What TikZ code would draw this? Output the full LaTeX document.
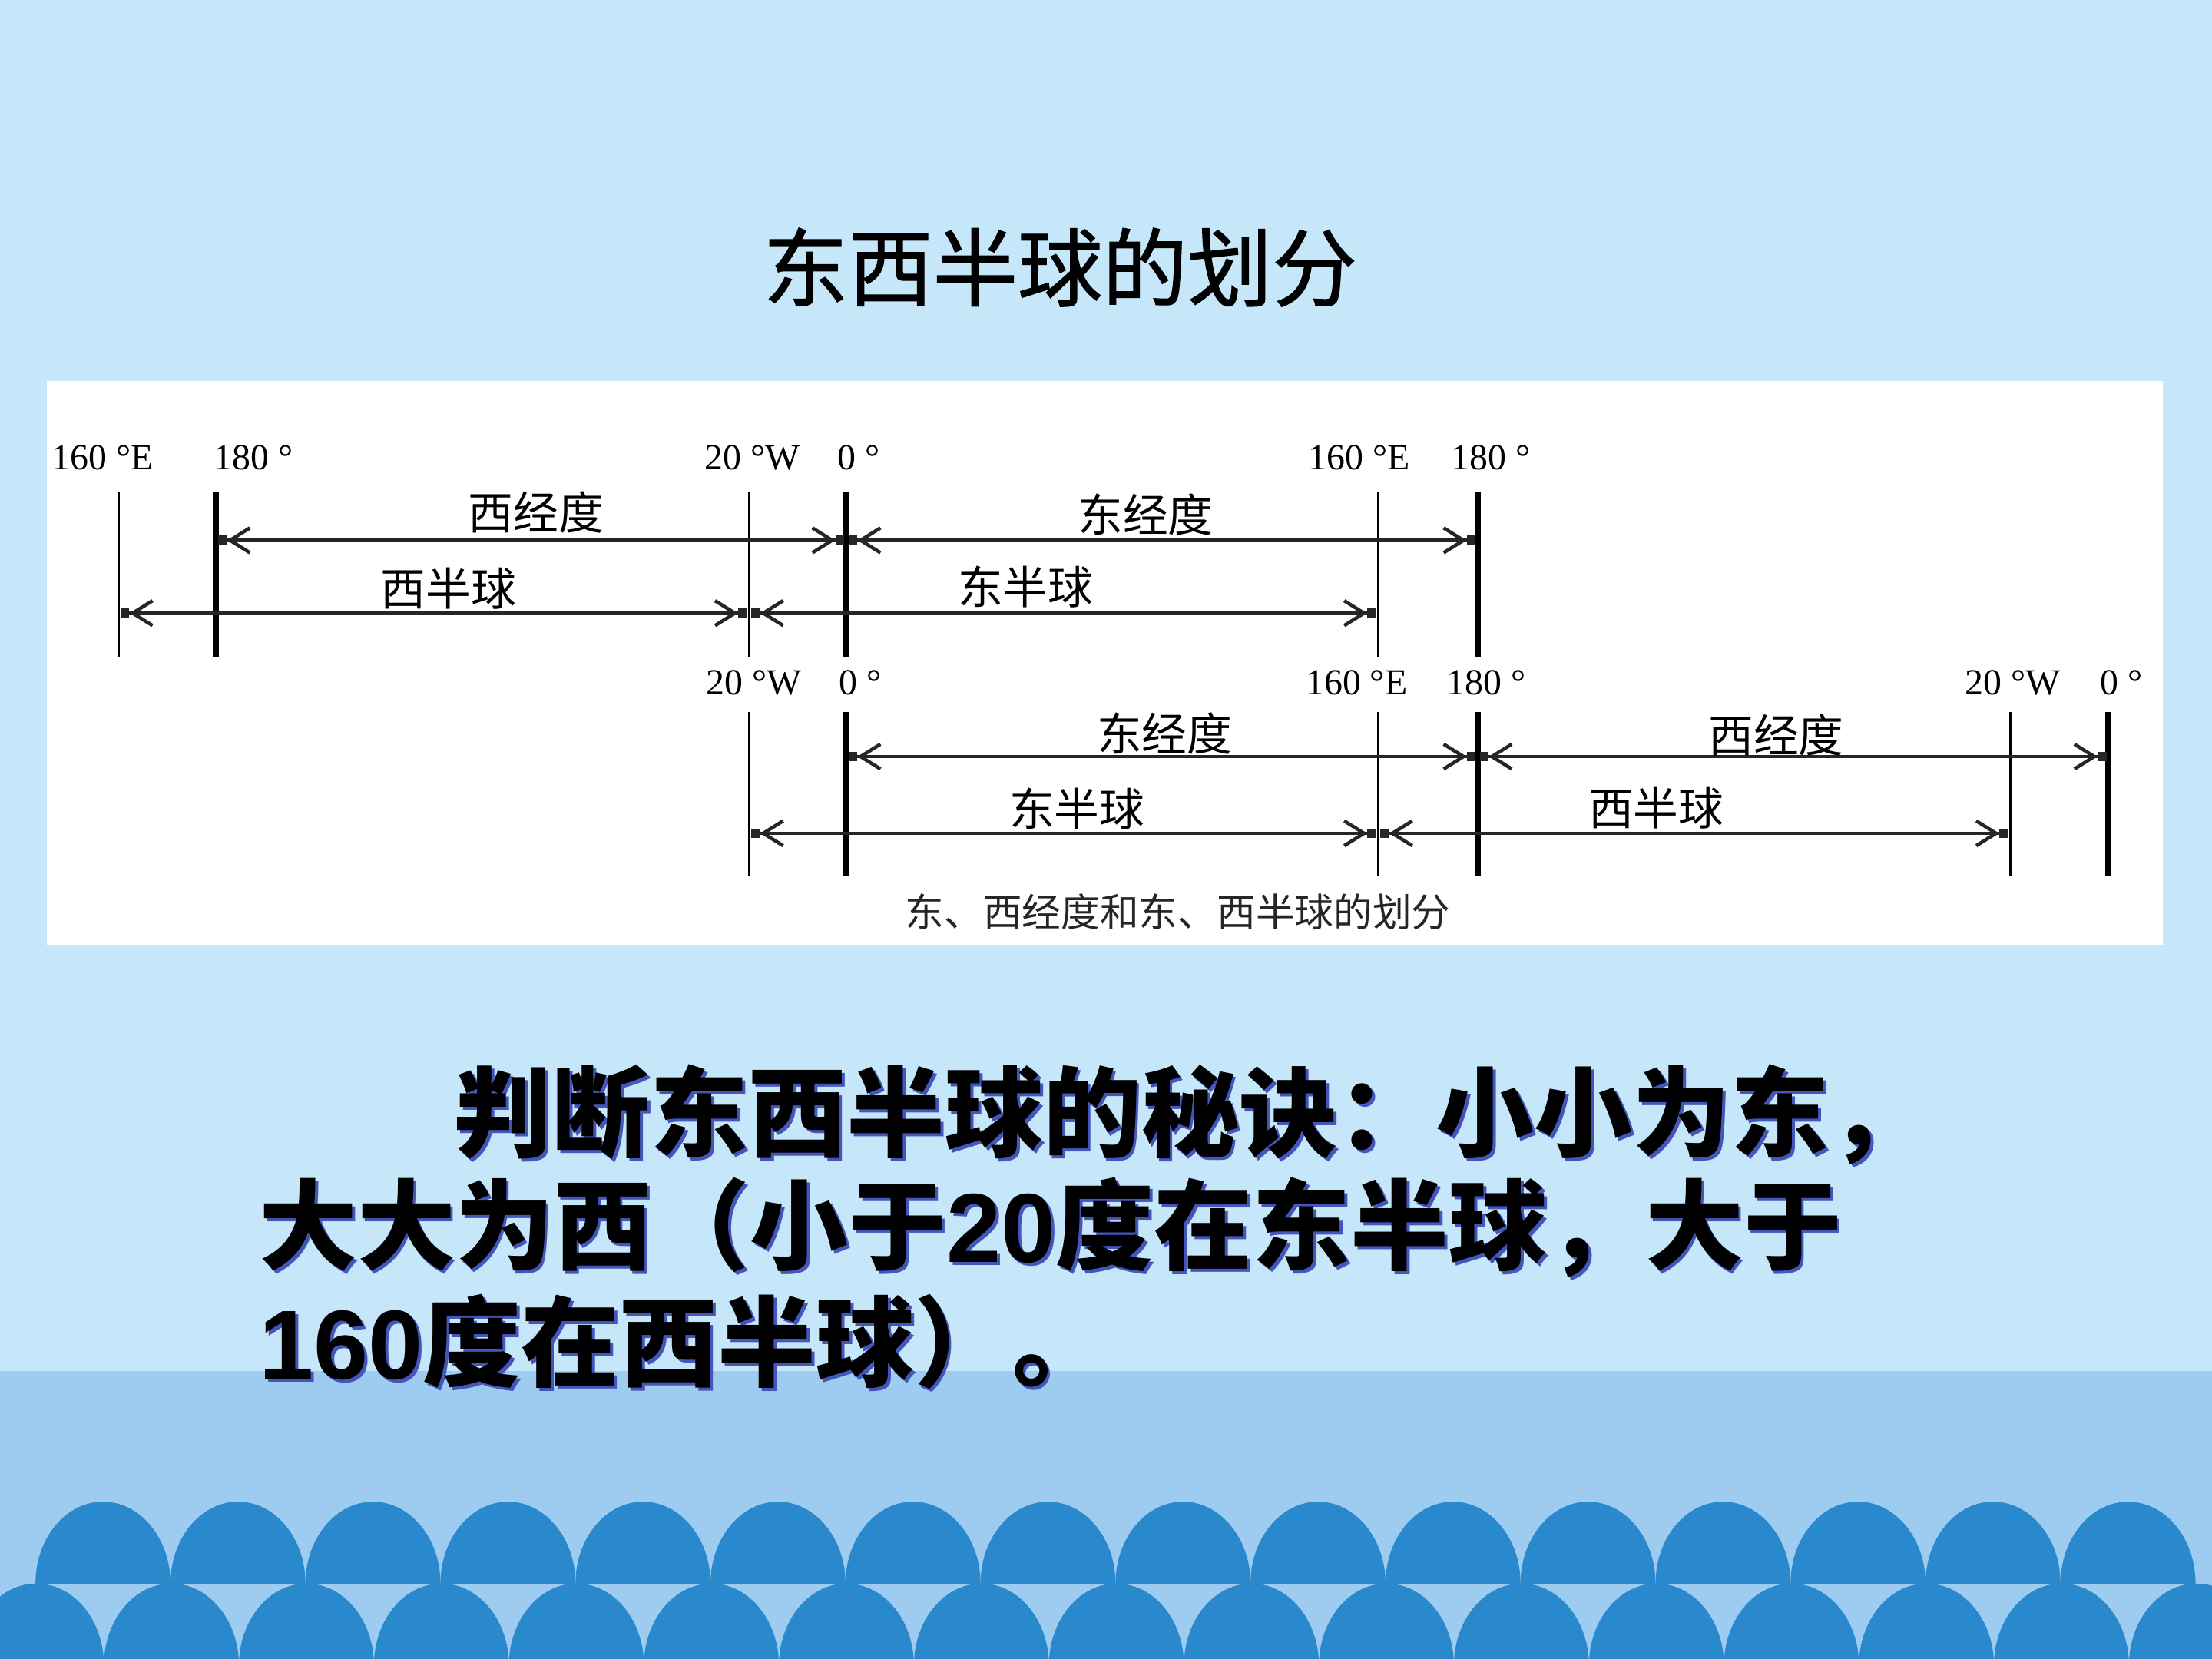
\documentclass[tikz,border=0pt]{standalone}
\usepackage{fontspec}
\setmainfont{Liberation Serif}
\newfontfamily\cjk{Noto Sans CJK SC}
\newfontfamily\cjkhead{Noto Sans CJK SC}[FakeBold=1.2]
\newfontfamily\numfont{Liberation Sans}
\usetikzlibrary{arrows.meta}
\definecolor{skytop}{HTML}{C5E7F9}
\definecolor{skyband}{HTML}{9ECCF0}
\definecolor{wave}{HTML}{2A88CC}
\definecolor{shadowblue}{HTML}{4455BB}
\tikzset{
    mthin/.style={line width=0.55pt},
    mthick/.style={line width=1.3pt},
    span/.style={draw=black!85, line width=0.7pt, shorten <=0.4pt, shorten >=0.4pt,
        arrows={Square[length=1.8pt,width=1.9pt,sep=0pt]Straight Barb[length=4pt,width=5pt,sep=0pt]-Straight Barb[length=4pt,width=5pt,sep=0pt]Square[length=1.8pt,width=1.9pt,sep=0pt]}},
    deg/.style={anchor=west, inner sep=0pt, font=\fontsize{7.4}{8}\selectfont},
    lab/.style={inner sep=0pt, font=\cjk\fontsize{9.1}{10}\selectfont},
    captxt/.style={inner sep=0pt, text=black!85, font=\cjk\fontsize{7.85}{9}\selectfont},
    title/.style={inner sep=0pt, font=\cjkhead\fontsize{17.1}{20}\selectfont},
    rule/.style={anchor=west, inner sep=0pt, font=\cjk\bfseries\fontsize{19.8}{22}\selectfont}
}
\begin{document}
\begin{tikzpicture}[x=0.01cm, y=-0.01cm]
    \useasboundingbox (0,0) rectangle (1568,1176);
    \fill[skytop] (0,0) rectangle (1568,1176);
    \fill[skyband] (0,972) rectangle (1568,1176);

    \begin{scope}[]
    \clip (0,1000) rectangle (1568,1122.5);
    \foreach \k in {0,...,15}
        \fill[wave] (73+95.7*\k,1122.5) ellipse (47.85 and 58);
    \end{scope}
    \begin{scope}[]
    \clip (0,1122.5) rectangle (1568,1176);
    \foreach \k in {0,...,16}
        \fill[wave] (25.8+95.7*\k,1180.5) ellipse (47.85 and 58);
    \end{scope}

    \node[title] (title) at (751.5,189.5) {东西半球的划分};

    \fill[white] (33,270) rectangle (1533,670);

    \begin{scope}[]
    \foreach \n/\x/\w in {ua/84/mthin, ub/153/mthick, uc/531/mthin, ud/600/mthick, ue/977/mthin, uf/1047.5/mthick} {
        \coordinate (\n-t) at (\x,348.5);
        \coordinate (\n-b) at (\x,466);
        \draw[\w] (\n-t) -- (\n-b);
    }
    \coordinate (row1) at (0,383);
    \coordinate (row2) at (0,434.6);
    \draw[span] (ub-t |- row1) -- (ud-t |- row1);
    \draw[span] (ud-t |- row1) -- (uf-t |- row1);
    \draw[span] (ua-t |- row2) -- (uc-t |- row2);
    \draw[span] (uc-t |- row2) -- (ue-t |- row2);

    \node[lab] (uwlon) at (380,363) {西经度};
    \node[lab] (uelon) at (812,365) {东经度};
    \node[lab] (uwhem) at (318,417) {西半球};
    \node[lab] (uehem) at (727,416) {东半球};

    \node[deg] (ua-l) at (36,324.5) {160 °E};
    \node[deg] (ub-l) at (151,324.5) {180 °};
    \node[deg] (uc-l) at (499,324.5) {20 °W};
    \node[deg] (ud-l) at (593,324.5) {0 °};
    \node[deg] (ue-l) at (927,324.5) {160 °E};
    \node[deg] (uf-l) at (1028,324.5) {180 °};
    \end{scope}

    \begin{scope}[]
    \foreach \n/\x/\w in {la/531/mthin, lb/600/mthick, lc/977/mthin, ld/1047.5/mthick, le/1425/mthin, lf/1494.6/mthick} {
        \coordinate (\n-t) at (\x,504.5);
        \coordinate (\n-b) at (\x,621);
        \draw[\w] (\n-t) -- (\n-b);
    }
    \coordinate (row3) at (0,536.3);
    \coordinate (row4) at (0,590.7);
    \draw[span] (lb-t |- row3) -- (ld-t |- row3);
    \draw[span] (ld-t |- row3) -- (lf-t |- row3);
    \draw[span] (la-t |- row4) -- (lc-t |- row4);
    \draw[span] (lc-t |- row4) -- (le-t |- row4);

    \node[lab] (lelon) at (825.5,520) {东经度};
    \node[lab] (lwlon) at (1259,521) {西经度};
    \node[lab] (lehem) at (763.5,573.5) {东半球};
    \node[lab] (lwhem) at (1174,573) {西半球};

    \node[deg] (la-l) at (500,484) {20 °W};
    \node[deg] (lb-l) at (594,484) {0 °};
    \node[deg] (lc-l) at (925,484) {160 °E};
    \node[deg] (ld-l) at (1025,484) {180 °};
    \node[deg] (le-l) at (1392.5,484) {20 °W};
    \node[deg] (lf-l) at (1488,484) {0 °};
    \end{scope}

    \node[captxt] (captn) at (835,646.5) {东、西经度和东、西半球的划分};

    \foreach \d/\c in {2/shadowblue, 0/black} {
        \node[rule, text=\c] (rule1-\c) at (321+\d,790+\d) {判断东西半球的秘诀：小小为东，};
        \node[rule, text=\c] (rule2-\c) at (183+\d,870+\d) {大大为西（小于{\numfont 20}度在东半球，大于};
        \node[rule, text=\c] (rule3-\c) at (183+\d,951+\d) {{\numfont 160}度在西半球）。};
    }
\end{tikzpicture}
\end{document}
